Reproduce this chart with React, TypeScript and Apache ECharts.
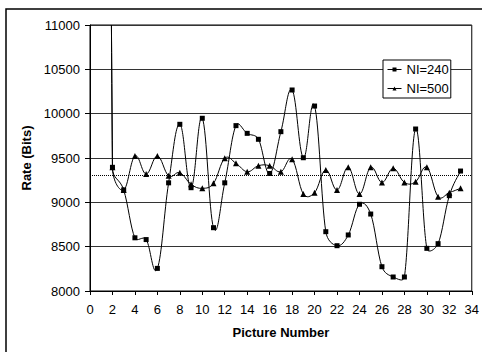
import React, { useEffect, useRef } from "react";
import * as echarts from "echarts";

const pictureNumbers = [1, 2, 3, 4, 5, 6, 7, 8, 9, 10, 11, 12, 13, 14, 15, 16, 17, 18, 19, 20, 21, 22, 23, 24, 25, 26, 27, 28, 29, 30, 31, 32, 33];
const ni240 = [40000, 9395, 9140, 8600, 8580, 8255, 9220, 9880, 9165, 9948, 8714, 9220, 9865, 9778, 9711, 9325, 9797, 10267, 9503, 10086, 8669, 8511, 8632, 8978, 8868, 8274, 8158, 8158, 9827, 8481, 8534, 9075, 9353];
const ni500 = [40000, 9395, 9140, 9522, 9320, 9522, 9300, 9334, 9203, 9158, 9214, 9496, 9440, 9345, 9413, 9413, 9345, 9485, 9094, 9109, 9365, 9139, 9395, 9094, 9395, 9225, 9383, 9225, 9233, 9395, 9064, 9109, 9158];
const averageRate = 9300;
const seriesNames = ["NI=240", "NI=500"];

const FONT = "Arial, 'Liberation Sans', sans-serif";

function curveSeries(vals: number[]) {
  return {
    type: "custom",
    coordinateSystem: "cartesian2d",
    silent: true,
    data: [[pictureNumbers[1], vals[1]]],
    z: 1,
    renderItem: (params: any, api: any) => {
      const pts = pictureNumbers.map((x, i) => api.coord([x, vals[i]]));
      const n = pts.length;
      const cps: number[][][] = [];
      for (let i = 0; i < n; i++) {
        const prev = pts[Math.max(0, i - 1)];
        const next = pts[Math.min(n - 1, i + 1)];
        const p = pts[i];
        const vx = (next[0] - prev[0]) / 5;
        const vy = (next[1] - prev[1]) / 5;
        const vl = Math.sqrt(vx * vx + vy * vy) || 1;
        const lp = Math.hypot(p[0] - prev[0], p[1] - prev[1]);
        const ln = Math.hypot(next[0] - p[0], next[1] - p[1]);
        const sIn = Math.min(1, (0.5 * lp) / vl);
        const sOut = Math.min(1, (0.5 * ln) / vl);
        cps.push([
          [p[0] - vx * sIn, p[1] - vy * sIn],
          [p[0] + vx * sOut, p[1] + vy * sOut],
        ]);
      }
      let d = `M${pts[0][0]},${pts[0][1]}`;
      for (let i = 0; i < n - 1; i++) {
        const c1 = cps[i][1];
        const c2 = cps[i + 1][0];
        const q = pts[i + 1];
        d += ` C${c1[0]},${c1[1]} ${c2[0]},${c2[1]} ${q[0]},${q[1]}`;
      }
      const cs = params.coordSys;
      return {
        type: "path",
        shape: { pathData: d },
        style: { fill: "none", stroke: "#000", lineWidth: 1 },
        clipPath: { type: "rect", shape: { x: cs.x, y: cs.y, width: cs.width, height: cs.height } },
      };
    },
  };
}

export default function App() {
  const ref = useRef<HTMLDivElement>(null);
  useEffect(() => {
    document.body.style.margin = "0";
    const chart = echarts.init(ref.current!, null, { renderer: "svg" });
    const toPairs = (vals: number[]) => pictureNumbers.map((x, i) => [x, vals[i]]);
    chart.setOption({
      animation: false,
      backgroundColor: "#fff",
      textStyle: { fontFamily: FONT },
      grid: {
        left: 90,
        right: 10,
        top: 25,
        bottom: 61,
        show: true,
        borderColor: "#000",
        borderWidth: 1,
        backgroundColor: "transparent",
      },
      legend: {
        orient: "vertical",
        left: 383,
        top: 60,
        data: seriesNames,
        backgroundColor: "#fff",
        borderColor: "#000",
        borderWidth: 1,
        borderRadius: 0,
        padding: [3, 2, 3, 4],
        itemWidth: 14,
        itemHeight: 5,
        itemGap: 6,
        lineStyle: { color: "#000", width: 1, opacity: 1 },
        textStyle: { fontFamily: FONT, fontSize: 13, color: "#000", lineHeight: 13 },
      },
      xAxis: {
        type: "value",
        min: 0,
        max: 34,
        interval: 2,
        name: "Picture Number",
        nameLocation: "middle",
        nameGap: 35,
        nameTextStyle: { fontFamily: FONT, fontSize: 13, fontWeight: "bold", color: "#000" },
        axisLine: { show: true, lineStyle: { color: "#000", width: 1 } },
        axisTick: { show: true, length: 4, lineStyle: { color: "#000" } },
        axisLabel: { margin: 12, fontFamily: FONT, fontSize: 13, color: "#000" },
        splitLine: { show: false },
      },
      yAxis: {
        type: "value",
        min: 8000,
        max: 11000,
        interval: 500,
        name: "Rate (Bits)",
        nameLocation: "middle",
        nameGap: 50,
        nameTextStyle: { fontFamily: FONT, fontSize: 13, fontWeight: "bold", color: "#000" },
        axisLine: { show: true, lineStyle: { color: "#000", width: 1 } },
        axisTick: { show: true, length: 5, lineStyle: { color: "#000" } },
        axisLabel: {
          margin: 10,
          fontFamily: FONT,
          fontSize: 13,
          color: "#000",
          formatter: (v: number) => String(v),
        },
        splitLine: { show: true, lineStyle: { color: "#333", width: 1 } },
      },
      series: [
        {
          name: seriesNames[0],
          type: "line",
          data: toPairs(ni240),
          symbol: "rect",
          symbolSize: 5,
          showAllSymbol: true,
          clip: true,
          z: 3,
          lineStyle: { color: "#000", width: 1, opacity: 0 },
          itemStyle: { color: "#000" },
          markLine: {
            silent: true,
            symbol: "none",
            label: { show: false },
            lineStyle: { color: "#000", type: "dotted", width: 1, opacity: 1 },
            data: [{ yAxis: averageRate }],
          },
        },
        {
          name: seriesNames[1],
          type: "line",
          data: toPairs(ni500),
          symbol: "triangle",
          symbolSize: 6,
          showAllSymbol: true,
          clip: true,
          z: 3,
          lineStyle: { color: "#000", width: 1, opacity: 0 },
          itemStyle: { color: "#000" },
        },
        curveSeries(ni240),
        curveSeries(ni500),
      ],
      graphic: [
        {
          type: "rect",
          shape: { x: 6, y: 9, width: 600, height: 600 },
          style: { fill: "none", stroke: "#000", lineWidth: 1.5 },
          silent: true,
          z: 100,
        },
      ],
    });
    return () => chart.dispose();
  }, []);
  return <div ref={ref} style={{ width: 482, height: 352 }} />;
}
